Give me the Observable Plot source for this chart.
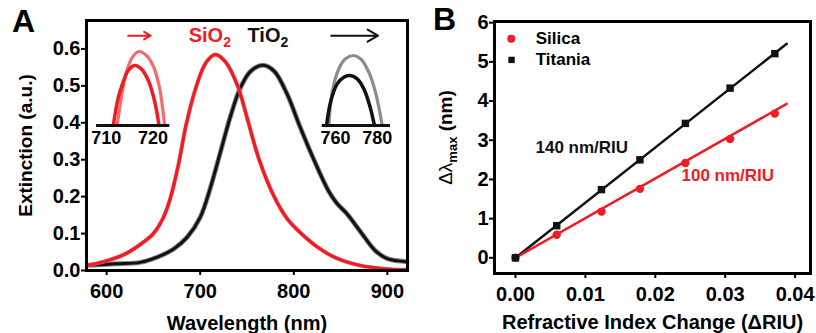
<!DOCTYPE html>
<html><head><meta charset="utf-8">
<script src="https://cdn.jsdelivr.net/npm/d3@7"></script>
<script src="https://cdn.jsdelivr.net/npm/@observablehq/plot@0.6"></script>
<style>
body{margin:0;background:#fff;}
#wrap{position:relative;width:816px;height:333px;overflow:hidden;font-family:"Liberation Sans",Arial,sans-serif;background:#fff;}
.abs{position:absolute;}
.lbl{position:absolute;font-weight:bold;font-size:32px;line-height:32px;color:#000;}
</style></head><body><div id="wrap"></div>
<script>
// ---------- Panel A: extinction spectra ----------
const sio2Wavelength = [580, 600, 620, 640, 650, 660, 668, 677, 685, 696, 706, 716, 727, 740, 751, 763, 779, 793, 808, 825, 845, 870, 895, 921];
const sio2Extinction = [0.014, 0.026, 0.045, 0.078, 0.100, 0.140, 0.195, 0.290, 0.395, 0.500, 0.562, 0.585, 0.565, 0.500, 0.405, 0.300, 0.200, 0.140, 0.100, 0.064, 0.034, 0.014, 0.005, 0.002];
const tio2Wavelength = [580, 609, 636, 654, 672, 686, 700, 711, 722, 733, 743, 754, 767, 779, 793, 807, 822, 837, 846, 857, 873, 887, 900, 921];
const tio2Extinction = [0.014, 0.018, 0.022, 0.036, 0.059, 0.090, 0.144, 0.225, 0.324, 0.423, 0.495, 0.540, 0.556, 0.540, 0.477, 0.387, 0.297, 0.216, 0.182, 0.153, 0.099, 0.054, 0.032, 0.024];
const xTicksA = [600, 700, 800, 900];
const yTicksA = [0, 0.1, 0.2, 0.3, 0.4, 0.5, 0.6];

// Insets (peak close-ups, relative height)
const insetSiBeforeNm  = [711.5, 712.5, 713.6, 714.7, 716.1, 717.5, 719.0, 720.4, 721.3];
const insetSiBeforeVal = [0, 0.333, 0.541, 0.688, 0.75, 0.708, 0.563, 0.291, 0];
const insetSiAfterNm   = [712.3, 713.3, 714.3, 715.6, 717.0, 718.6, 720.0, 721.3, 722.5];
const insetSiAfterVal  = [0, 0.375, 0.666, 0.854, 0.925, 0.875, 0.75, 0.5, 0];
const insetSiTicks = [710, 720];
const insetTiBeforeNm  = [755.7, 757.6, 760.8, 764.0, 766.9, 770.4, 773.6, 776.4, 778.7];
const insetTiBeforeVal = [0, 0.291, 0.521, 0.604, 0.625, 0.583, 0.458, 0.25, 0];
const insetTiAfterNm   = [756.8, 758.4, 761.6, 764.8, 768.5, 772.0, 776.0, 779.2, 782.4];
const insetTiAfterVal  = [0, 0.416, 0.709, 0.834, 0.875, 0.834, 0.666, 0.416, 0];
const insetTiTicks = [760, 780];

// ---------- Panel B: sensitivity ----------
const riuTitania = [0, 0.0059, 0.0123, 0.0178, 0.0243, 0.0307, 0.0371];
const shiftTitania = [0, 0.82, 1.74, 2.50, 3.43, 4.33, 5.21];
const riuSilica = [0, 0.0059, 0.0123, 0.0178, 0.0243, 0.0307, 0.0371];
const shiftSilica = [0, 0.59, 1.18, 1.76, 2.42, 3.03, 3.68];
const fitRiu = [0, 0.0388];
const fitTitania = [0, 5.46];
const fitSilica = [0, 3.93];
const xTicksB = [0, 0.01, 0.02, 0.03, 0.04];
const yTicksB = [0, 1, 2, 3, 4, 5, 6];

const RED = "#ee1c24";
const BLACK = "#111";
const zip = (xs, ys) => xs.map((x, i) => ({x, y: ys[i]}));
const baseStyle = {fontFamily: "'Liberation Sans', Arial, sans-serif", fontWeight: "bold", fontSize: "20px", background: "transparent", color: "#000", overflow: "visible"};

const wrap = document.getElementById("wrap");
function place(el, left, top) {
  const d = document.createElement("div");
  d.className = "abs"; d.style.left = left + "px"; d.style.top = top + "px";
  d.appendChild(el); wrap.appendChild(d); return el;
}
function richText(svg, plain, parts) {
  d3.select(svg).selectAll("text").each(function() {
    if (this.textContent === plain) {
      const t = d3.select(this); t.text(null);
      for (const p of parts) {
        const s = t.append("tspan").text(p.t);
        if (p.dy) s.attr("dy", p.dy);
        if (p.size) s.attr("font-size", p.size);
        if (p.weight) s.attr("font-weight", p.weight);
      }
    }
  });
}

const sio2 = zip(sio2Wavelength, sio2Extinction);
const tio2 = zip(tio2Wavelength, tio2Extinction);

const plotA = Plot.plot({
  width: 420, height: 333,
  marginLeft: 86, marginRight: 13, marginTop: 20, marginBottom: 63,
  style: baseStyle,
  x: {domain: [578.5, 921.5]},
  y: {domain: [0, 0.677]},
  marks: [
    Plot.line(tio2, {x: "x", y: "y", stroke: "#8a8a8a", strokeWidth: 5, curve: "catmull-rom"}),
    Plot.line(tio2, {x: "x", y: "y", stroke: BLACK, strokeWidth: 3, curve: "catmull-rom"}),
    Plot.line(sio2, {x: "x", y: "y", stroke: "#f46060", strokeWidth: 4, curve: "catmull-rom"}),
    Plot.line(sio2, {x: "x", y: "y", stroke: RED, strokeWidth: 3, curve: "catmull-rom"}),
    Plot.axisX({ticks: xTicksA, tickSize: 5, tickPadding: 8, strokeWidth: 2, label: null}),
    Plot.axisY({ticks: yTicksA, tickFormat: ".1f", tickSize: 5, tickPadding: 1, strokeWidth: 2, label: null}),
    Plot.frame({strokeWidth: 3}),
    Plot.text(["Wavelength (nm)"], {text: d => d, frameAnchor: "bottom", dy: 53, textAnchor: "middle", lineAnchor: "middle", fontSize: 20}),
    Plot.text(["Extinction (a.u.)"], {text: d => d, frameAnchor: "left", dx: -60.5, rotate: -90, textAnchor: "middle", lineAnchor: "middle", fontSize: 19}),
    Plot.text(["SiO2"], {text: d => d, x: 687.7, y: 0.635, textAnchor: "start", lineAnchor: "middle", fill: RED, fontSize: 20}),
    Plot.text(["TiO2"], {text: d => d, x: 750.5, y: 0.635, textAnchor: "start", lineAnchor: "middle", fill: BLACK, fontSize: 20}),
    Plot.arrow([0], {x1: 623, y1: 0.636, x2: 647, y2: 0.636, stroke: RED, strokeWidth: 2, headLength: 8}),
    Plot.arrow([0], {x1: 840, y1: 0.636, x2: 890, y2: 0.636, stroke: BLACK, strokeWidth: 2, headLength: 9})
  ]
});
richText(plotA, "SiO2", [{t: "SiO"}, {t: "2", dy: 5, size: 14}]);
richText(plotA, "TiO2", [{t: "TiO"}, {t: "2", dy: 5, size: 14}]);
place(plotA, 0, 0);

function inset(beforeNm, beforeVal, afterNm, afterVal, ticks, domain, cBefore, cAfter, w, ml, mr) {
  return Plot.plot({
    width: w, height: 110, marginLeft: ml, marginRight: mr, marginTop: 5, marginBottom: 25,
    style: baseStyle,
    x: {domain}, y: {domain: [0, 1]},
    marks: [
      Plot.line(zip(afterNm, afterVal), {x: "x", y: "y", stroke: cAfter, strokeWidth: 3.2, curve: "catmull-rom"}),
      Plot.line(zip(beforeNm, beforeVal), {x: "x", y: "y", stroke: cBefore, strokeWidth: 3.5, curve: "catmull-rom"}),
      Plot.ruleY([0], {strokeWidth: 3, stroke: BLACK}),
      Plot.axisX({ticks, tickSize: 0, tickPadding: 6, label: null, fontSize: 18}),
      Plot.axisY({ticks: [], label: null})
    ]
  });
}
place(inset(insetSiBeforeNm, insetSiBeforeVal, insetSiAfterNm, insetSiAfterVal, insetSiTicks, [707.9, 723.6], RED, "#f36b6b", 85, 6, 5.7), 90, 40);
place(inset(insetTiBeforeNm, insetTiBeforeVal, insetTiAfterNm, insetTiAfterVal, insetTiTicks, [753.6, 786.4], BLACK, "#8c8c8c", 80, 6.7, 5), 315, 40);

// Panel B
const titania = zip(riuTitania, shiftTitania);
const silica = zip(riuSilica, shiftSilica);
const plotB = Plot.plot({
  width: 396, height: 333,
  marginLeft: 74, marginRight: 6, marginTop: 21, marginBottom: 60,
  style: baseStyle,
  x: {domain: [-0.003, 0.0422]},
  y: {domain: [-0.4, 6.03]},
  marks: [
    Plot.line(zip(fitRiu, fitTitania), {x: "x", y: "y", stroke: BLACK, strokeWidth: 2.5}),
    Plot.line(zip(fitRiu, fitSilica), {x: "x", y: "y", stroke: RED, strokeWidth: 2.5}),
    Plot.dot(silica, {x: "x", y: "y", fill: RED, r: 4.2}),
    Plot.dot(titania, {x: "x", y: "y", fill: BLACK, symbol: "square", r: 4.2}),
    Plot.axisX({ticks: xTicksB, tickFormat: ".2f", tickSize: 5, tickPadding: 8, strokeWidth: 2, label: null}),
    Plot.axisY({ticks: yTicksB, tickFormat: "d", tickSize: 5, tickPadding: 1, strokeWidth: 2, label: null}),
    Plot.frame({strokeWidth: 3}),
    Plot.dot([0], {x: -0.0006, y: 5.59, r: 4, fill: RED}),
    Plot.dot([0], {x: -0.00056, y: 5.05, r: 3.6, symbol: "square", fill: BLACK}),
    Plot.text(["Silica"], {text: d => d, x: 0.0029, y: 5.59, textAnchor: "start", lineAnchor: "middle", fontSize: 17}),
    Plot.text(["Titania"], {text: d => d, x: 0.0029, y: 5.05, textAnchor: "start", lineAnchor: "middle", fontSize: 17}),
    Plot.text(["140 nm/RIU"], {text: d => d, x: 0.00286, y: 2.815, textAnchor: "start", lineAnchor: "middle", fontSize: 17, fill: BLACK}),
    Plot.text(["100 nm/RIU"], {text: d => d, x: 0.02375, y: 2.10, textAnchor: "start", lineAnchor: "middle", fontSize: 17, fill: RED}),
    Plot.text(["Refractive Index Change (ΔRIU)"], {text: d => d, frameAnchor: "bottom", dy: 49, textAnchor: "middle", lineAnchor: "middle", fontSize: 20}),
    Plot.text(["Δλmax (nm)"], {text: d => d, frameAnchor: "left", dx: -49, dy: -10, rotate: -90, textAnchor: "middle", lineAnchor: "middle", fontSize: 19})
  ]
});
richText(plotB, "Δλmax (nm)", [{t: "Δλ", weight: "normal"}, {t: "max", dy: 5, size: 13}, {t: " (nm)", dy: -5}]);
place(plotB, 420, 0);

// Panel letters
for (const [t, l, tp] of [["A", 12, 5], ["B", 433, 3]]) {
  const d = document.createElement("div");
  d.className = "lbl"; d.textContent = t; d.style.left = l + "px"; d.style.top = tp + "px";
  wrap.appendChild(d);
}
</script></body></html>
